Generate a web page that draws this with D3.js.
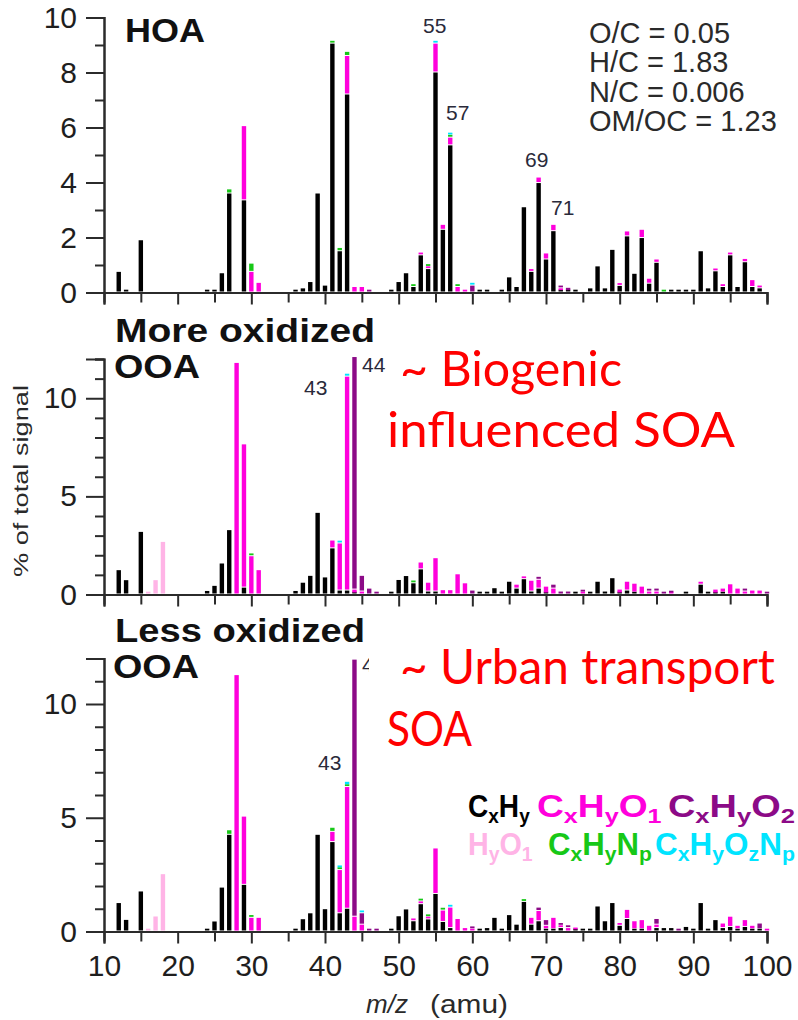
<!DOCTYPE html>
<html><head><meta charset="utf-8">
<script src="https://cdn.jsdelivr.net/npm/d3@7"></script>
<style>
html,body{margin:0;padding:0;background:#fff;}
svg{display:block;font-family:"Liberation Sans",Arial,sans-serif;}
</style></head><body>
<svg id="chart" width="798" height="1020"></svg>
<script>
// Ion families, in stacking order (bottom to top)
const families = ["CxHy", "CxHyO1", "CxHyO2", "HyO1", "CxHyNp", "CxHyOzNp"];
const familyColors = ["#000000", "#ff00dc", "#8c0a87", "#ffb4e6", "#17c817", "#00e4ff"];

// HOA spectrum: [m/z, % of total signal]
const hoaCxHy = [[12,0.75],[13,0.05],[15,1.9],[24,0.05],[25,0.05],[26,0.7],[27,3.6],[29,3.35],[36,0.05],[37,0.15],[38,0.38],[39,3.6],[40,0.25],[41,9.05],[42,1.5],[43,7.2],[49,0.05],[50,0.38],[51,0.7],[52,0.2],[53,1.35],[54,0.85],[55,8.0],[56,2.28],[57,5.35],[61,0.1],[62,0.1],[64,0.05],[65,0.55],[66,0.2],[67,3.1],[68,0.75],[69,3.98],[70,1.2],[71,2.23],[72,0.05],[73,0.05],[74,0.05],[76,0.15],[77,0.95],[78,0.15],[79,1.55],[80,0.24],[81,2.04],[82,0.68],[83,1.98],[84,0.32],[85,1.08],[87,0.05],[88,0.05],[89,0.08],[90,0.05],[91,1.5],[92,0.15],[93,0.77],[94,0.2],[95,1.35],[96,0.2],[97,1.1],[98,0.2],[99,0.15]];
const hoaCxHyO1 = [[29,2.7],[30,0.75],[31,0.35],[43,1.4],[44,0.2],[45,0.2],[53,0.08],[54,0.08],[55,1.05],[56,0.18],[57,0.28],[58,0.2],[59,0.05],[68,0.08],[69,0.2],[70,0.22],[71,0.23],[72,0.1],[80,0.08],[81,0.18],[83,0.3],[84,0.18],[85,0.12],[93,0.08],[94,0.08],[95,0.08],[97,0.12],[98,0.25],[99,0.1]];
const hoaCxHyO2 = [[46,0.05],[60,0.25],[72,0.05],[73,0.12]];
const hoaHyO1 = [];
const hoaCxHyNp = [[27,0.15],[30,0.3],[41,0.1],[42,0.12],[43,0.15],[52,0.1],[54,0.08],[57,0.08],[58,0.08],[86,0.05]];
const hoaCxHyOzNp = [[55,0.1],[57,0.06],[60,0.1]];

// More oxidized OOA spectrum
const moCxHy = [[12,1.24],[13,0.73],[15,3.19],[24,0.18],[25,0.44],[26,1.58],[27,3.28],[29,0.35],[36,0.18],[37,0.6],[38,0.95],[39,4.16],[40,0.87],[41,2.35],[42,0.2],[43,0.2],[44,0.05],[49,0.14],[50,0.74],[51,0.94],[52,0.57],[53,1.28],[54,0.15],[55,0.15],[61,0.13],[62,0.1],[63,0.32],[64,0.05],[65,0.65],[66,0.3],[67,0.78],[68,0.15],[69,0.3],[70,0.05],[74,0.12],[76,0.1],[77,0.65],[78,0.15],[79,0.83],[80,0.05],[81,0.2],[82,0.1],[89,0.08],[91,0.5],[92,0.1],[93,0.05],[94,0.1]];
const moCxHyO1 = [[28,11.8],[29,7.3],[30,1.95],[31,1.24],[41,0.4],[42,2.4],[43,10.9],[44,0.2],[45,0.15],[53,0.35],[54,0.45],[55,1.7],[56,0.22],[57,0.22],[58,1.03],[59,0.57],[66,0.2],[67,0.1],[68,0.55],[69,0.45],[70,0.35],[71,0.3],[75,0.1],[80,0.2],[81,0.45],[82,0.45],[83,0.4],[84,0.15],[85,0.15],[87,0.05],[91,0.15],[93,0.2],[94,0.2],[95,0.52],[96,0.3],[97,0.15],[98,0.2],[99,0.2]];
const moCxHyO2 = [[44,11.85],[45,0.8],[46,0.3],[47,0.1],[60,0.2],[69,0.15],[71,0.2],[72,0.15],[73,0.15],[75,0.05],[84,0.05],[85,0.15],[86,0.1],[87,0.05],[97,0.15],[100,0.05]];
const moHyO1 = [[16,0.05],[17,0.73],[18,2.68]];
const moCxHyNp = [[30,0.12],[52,0.1]];
const moCxHyOzNp = [[42,0.1],[43,0.15]];

// Less oxidized OOA spectrum
const loCxHy = [[12,1.25],[13,0.51],[15,1.76],[24,0.1],[25,0.44],[26,1.93],[27,4.25],[29,2.05],[36,0.05],[37,0.54],[38,0.8],[39,4.25],[40,0.98],[41,3.93],[42,0.8],[43,1.0],[49,0.1],[50,0.67],[51,0.97],[52,0.45],[53,1.2],[54,0.53],[55,1.65],[56,0.42],[57,0.15],[61,0.1],[62,0.15],[63,0.6],[64,0.1],[65,0.72],[66,0.3],[67,1.3],[68,0.3],[69,0.45],[70,0.1],[71,0.1],[72,0.15],[74,0.05],[75,0.1],[76,0.1],[77,1.1],[78,0.45],[79,1.25],[80,0.25],[81,0.55],[82,0.1],[83,0.1],[85,0.15],[86,0.15],[87,0.15],[89,0.2],[90,0.1],[91,1.25],[92,0.1],[93,0.5],[94,0.15],[95,0.2],[96,0.1],[97,0.2],[98,0.1],[99,0.1]];
const loCxHyO1 = [[28,11.27],[29,3.0],[30,0.6],[31,0.6],[41,0.45],[42,1.9],[43,5.35],[44,0.65],[45,0.3],[52,0.1],[53,0.12],[54,0.1],[55,2.0],[56,0.5],[57,0.9],[58,0.55],[59,0.15],[60,0.1],[68,0.3],[69,0.45],[70,0.15],[71,0.5],[72,0.1],[73,0.15],[74,0.1],[80,0.1],[81,0.4],[82,0.35],[83,0.4],[84,0.25],[85,0.15],[94,0.2],[95,0.45],[96,0.15],[97,0.3],[98,0.15],[100,0.05]];
const loCxHyO2 = [[44,11.3],[45,0.5],[46,0.12],[47,0.12],[60,0.05],[69,0.15],[70,0.25],[72,0.05],[73,0.05],[85,0.25],[88,0.1],[99,0.25]];
const loHyO1 = [[16,0.05],[17,0.66],[18,2.52]];
const loCxHyNp = [[27,0.2],[30,0.12],[41,0.18],[42,0.08],[43,0.08],[53,0.1],[54,0.08],[56,0.1],[67,0.1]];
const loCxHyOzNp = [[42,0.1],[43,0.15],[45,0.1],[57,0.1]];

// Axis ticks
const xMajorTicks = [10, 20, 30, 40, 50, 60, 70, 80, 90, 100];
const xMinorTicks = [15, 25, 35, 45, 55, 65, 75, 85, 95];
const hoaYTicks = [0, 2, 4, 6, 8, 10];
const hoaYMinor = [1, 3, 5, 7, 9];
const ooaYTicks = [0, 5, 10];
const ooaYMinor = [1, 2, 3, 4, 6, 7, 8, 9, 11, 12];

const elementalRatios = ["O/C = 0.05", "H/C = 1.83", "N/C = 0.006", "OM/OC = 1.23"];

const panels = [
  { series: [hoaCxHy, hoaCxHyO1, hoaCxHyO2, hoaHyO1, hoaCxHyNp, hoaCxHyOzNp],
    yMax: 10, yRange: [292.5, 17.5], yTicks: hoaYTicks, yMinor: hoaYMinor,
    titles: [{t: "HOA", x: 125, y: 42, len: 80}],
    peaks: [{t: "55", x: 423, y: 33}, {t: "57", x: 446, y: 120}, {t: "69", x: 525, y: 167}, {t: "71", x: 551, y: 215}],
    xLabels: false },
  { series: [moCxHy, moCxHyO1, moCxHyO2, moHyO1, moCxHyNp, moCxHyOzNp],
    yMax: 12, yRange: [594.5, 359], yTicks: ooaYTicks, yMinor: ooaYMinor,
    titles: [{t: "More oxidized", x: 115, y: 342, len: 260}, {t: "OOA", x: 114, y: 378, len: 86}],
    peaks: [{t: "43", x: 304, y: 395}, {t: "44", x: 362, y: 372}],
    xLabels: false },
  { series: [loCxHy, loCxHyO1, loCxHyO2, loHyO1, loCxHyNp, loCxHyOzNp],
    yMax: 12, yRange: [931.5, 658.5], yTicks: ooaYTicks, yMinor: ooaYMinor,
    titles: [{t: "Less oxidized", x: 115, y: 642, len: 250}, {t: "OOA", x: 113, y: 678, len: 86}],
    peaks: [{t: "43", x: 318, y: 770}, {t: "44", x: 362, y: 672}],
    xLabels: true }
];

const svg = d3.select("#chart");
const x = d3.scaleLinear().domain([10, 100]).range([104, 767]);
const barW = 4.4;
const axisColor = "#2b2b2b";

panels.forEach((p, pi) => {
  const y = d3.scaleLinear().domain([0, p.yMax]).range(p.yRange);
  const g = svg.append("g");

  // table of m/z rows with one column per ion family
  const byMz = new Map();
  p.series.forEach((s, fi) => s.forEach(([m, v]) => {
    if (!byMz.has(m)) byMz.set(m, {mz: m});
    byMz.get(m)[families[fi]] = v;
  }));
  const rows = Array.from(byMz.values()).sort((a, b) => a.mz - b.mz);
  rows.forEach(r => families.forEach(f => { if (r[f] == null) r[f] = 0; }));
  const stacked = d3.stack().keys(families)(rows);

  stacked.forEach((layer, li) => {
    g.append("g").attr("fill", familyColors[li])
      .selectAll("rect")
      .data(layer.filter(d => d[1] - d[0] > 0))
      .join("rect")
      .attr("x", d => x(d.data.mz) - barW / 2)
      .attr("width", barW)
      .attr("y", d => {
        const h = Math.max(y(d[0]) - y(d[1]) - 1, 1.8);
        return y(d[0]) - 1 - h;
      })
      .attr("height", d => Math.max(y(d[0]) - y(d[1]) - 1, 1.8));
  });

  // y axis: major and minor ticks
  const yAxis = d3.axisLeft(y).tickValues(p.yTicks).tickSize(18).tickPadding(9).tickFormat(d3.format("d"));
  const ya = g.append("g").attr("transform", "translate(104,0)").call(yAxis);
  const yMinorAxis = d3.axisLeft(y).tickValues(p.yMinor).tickSize(9).tickFormat("");
  const ym = g.append("g").attr("transform", "translate(104,0)").call(yMinorAxis);
  [ya, ym].forEach(a => {
    a.select(".domain").attr("stroke", axisColor).attr("stroke-width", 2);
    a.selectAll(".tick line").attr("stroke", axisColor).attr("stroke-width", 2);
    a.selectAll(".tick text").attr("fill", "#1e1e1e").style("font-size", "30px")
      .style("font-family", "'Liberation Sans', Arial, sans-serif");
  });

  // x axis
  const y0 = y(0);
  const xAxis = d3.axisBottom(x).tickValues(xMajorTicks).tickSize(12).tickPadding(11)
    .tickFormat(p.xLabels ? d3.format("d") : "");
  const xa = g.append("g").attr("transform", `translate(0,${y0})`).call(xAxis);
  const xm = g.append("g").attr("transform", `translate(0,${y0})`)
    .call(d3.axisBottom(x).tickValues(xMinorTicks).tickSize(10).tickFormat(""));
  [xa, xm].forEach(a => {
    a.select(".domain").attr("stroke", axisColor).attr("stroke-width", 2);
    a.selectAll(".tick line").attr("stroke", axisColor).attr("stroke-width", 2);
    a.selectAll(".tick text").attr("fill", "#1e1e1e").style("font-size", "30px")
      .style("font-family", "'Liberation Sans', Arial, sans-serif");
  });

  // panel titles
  p.titles.forEach(t => {
    g.append("text").attr("x", t.x).attr("y", t.y)
      .attr("textLength", t.len).attr("lengthAdjust", "spacingAndGlyphs")
      .style("font-size", "33px").style("font-weight", "bold").attr("fill", "#111")
      .text(t.t);
  });

  // peak labels
  p.peaks.forEach(t => {
    g.append("text").attr("x", t.x).attr("y", t.y)
      .style("font-size", "21px").attr("fill", "#2a2a3a").text(t.t);
  });
});

// elemental ratios of HOA
svg.append("g").selectAll("text").data(elementalRatios).join("text")
  .attr("x", 589).attr("y", (d, i) => 43 + i * 29.4)
  .style("font-size", "29px").attr("fill", "#2a2a2a")
  .text(d => d);

// y axis title
svg.append("text")
  .attr("transform", "translate(28,481) rotate(-90)")
  .attr("text-anchor", "middle")
  .attr("textLength", 192).attr("lengthAdjust", "spacingAndGlyphs")
  .style("font-size", "21px").attr("fill", "#2a2a2a")
  .text("% of total signal");

// x axis title
svg.append("text").attr("x", 366).attr("y", 1013)
  .style("font-size", "26px").style("font-style", "italic").attr("fill", "#2a2a2a")
  .text("m/z");
svg.append("text").attr("x", 430).attr("y", 1013)
  .attr("textLength", 78).attr("lengthAdjust", "spacingAndGlyphs")
  .style("font-size", "26px").attr("fill", "#2a2a2a")
  .text("(amu)");

// source annotations
const annot = svg.append("g").style("font-family", "Lato, 'Open Sans', sans-serif").attr("fill", "#ff0000");
annot.append("rect").attr("x", 369).attr("y", 640).attr("width", 429).attr("height", 118).attr("fill", "#fff");
[
  {t: "~ Biogenic", x: 400, y: 386, len: 222},
  {t: "influenced SOA", x: 387, y: 447, len: 348},
  {t: "~ Urban transport", x: 400, y: 684, len: 375},
  {t: "SOA", x: 387, y: 746, len: 85}
].forEach(a => {
  annot.append("text").attr("x", a.x).attr("y", a.y)
    .attr("textLength", a.len).attr("lengthAdjust", "spacingAndGlyphs")
    .style("font-size", "48px").text(a.t);
});

// legend of ion families with subscripts, each fitted to its width
const legendItems = [
  {parts: [["C",""],["x","s"],["H",""],["y","s"]], fi: 0, x: 468, y: 817, w: 62},
  {parts: [["C",""],["x","s"],["H",""],["y","s"],["O",""],["1","s"]], fi: 1, x: 537, y: 817, w: 125},
  {parts: [["C",""],["x","s"],["H",""],["y","s"],["O",""],["2","s"]], fi: 2, x: 668, y: 817, w: 127},
  {parts: [["H",""],["y","s"],["O",""],["1","s"]], fi: 3, x: 468, y: 855, w: 65},
  {parts: [["C",""],["x","s"],["H",""],["y","s"],["N",""],["p","s"]], fi: 4, x: 548, y: 855, w: 104},
  {parts: [["C",""],["x","s"],["H",""],["y","s"],["O",""],["z","s"],["N",""],["p","s"]], fi: 5, x: 655, y: 855, w: 140}
];
const leg = svg.append("g").style("font-weight", "bold");
legendItems.forEach(item => {
  const ig = leg.append("g");
  const t = ig.append("text").attr("x", 0).attr("y", 0).attr("fill", familyColors[item.fi]);
  item.parts.forEach(([s, kind]) => {
    if (kind === "s") {
      t.append("tspan").attr("dy", 6).style("font-size", "21px").text(s);
    } else {
      t.append("tspan").attr("y", 0).style("font-size", "31px").text(s);
    }
  });
  const bw = t.node().getBBox().width;
  ig.attr("transform", `translate(${item.x},${item.y}) scale(${item.w / bw},1)`);
});
</script>
</body></html>
